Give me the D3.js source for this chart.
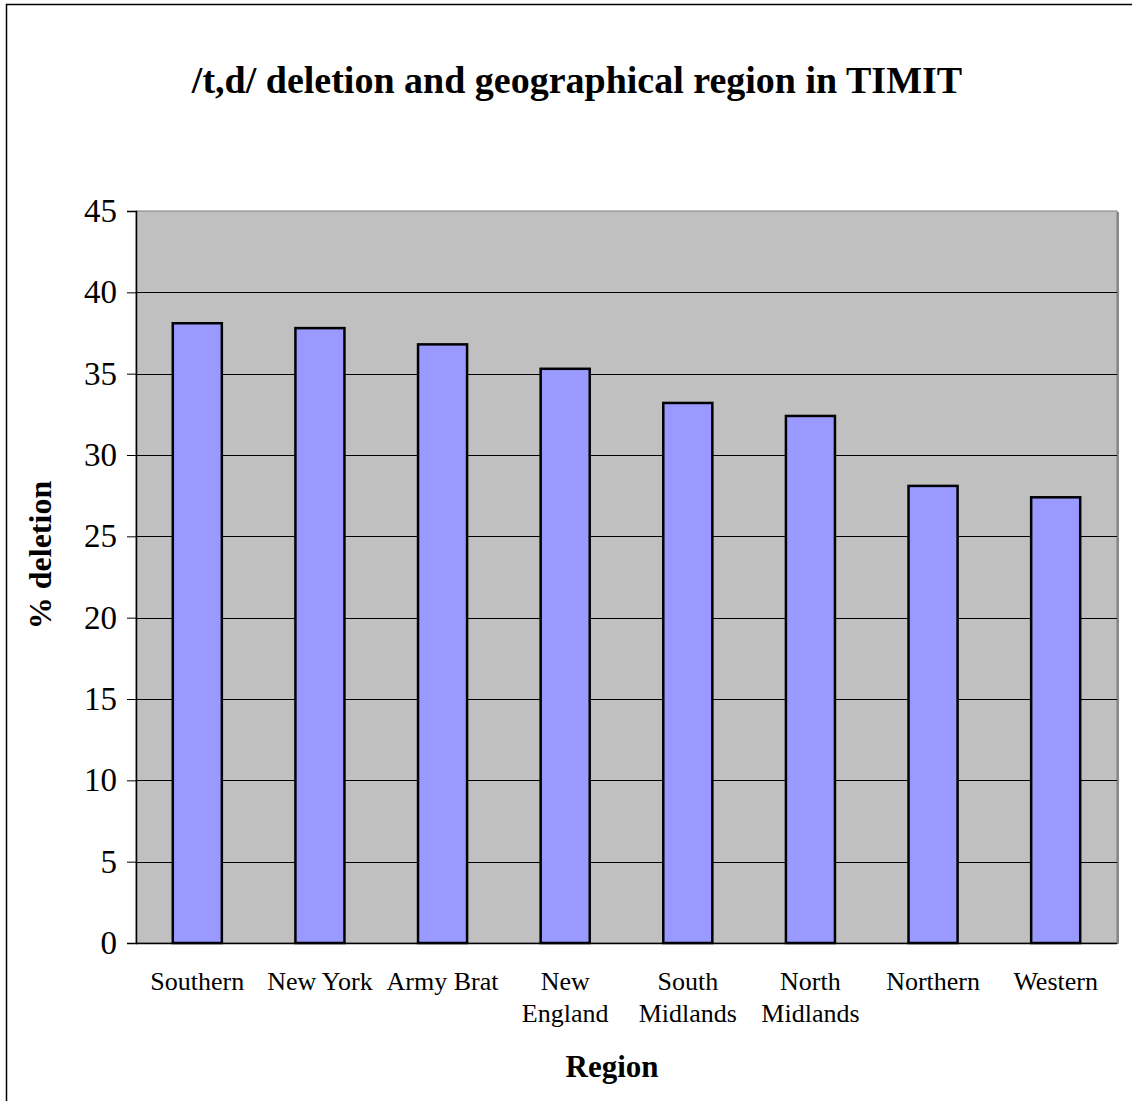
<!DOCTYPE html>
<html>
<head>
<meta charset="utf-8">
<script src="https://cdn.jsdelivr.net/npm/d3@7"></script>
<style>
  html, body { margin: 0; padding: 0; background: #fff; }
  svg { display: block; }
  text { font-family: "Liberation Serif", "Times New Roman", serif; fill: #000; }
</style>
</head>
<body>
<svg id="chart" width="1132" height="1101"></svg>
<script>
// Percent of /t,d/ deletion by dialect region
const regions = ["Southern", "New York", "Army Brat", "New England", "South Midlands", "North Midlands", "Northern", "Western"];
const regionLines = [["Southern"], ["New York"], ["Army Brat"], ["New", "England"], ["South", "Midlands"], ["North", "Midlands"], ["Northern"], ["Western"]];
const deletion = [38.1, 37.8, 36.8, 35.3, 33.2, 32.4, 28.1, 27.4];
const yTicks = [0, 5, 10, 15, 20, 25, 30, 35, 40, 45];

const serif = "'Liberation Serif', 'Times New Roman', serif";
const svg = d3.select("#chart");

// outer chart frame
svg.append("rect")
  .attr("x", 6.5).attr("y", 4.5)
  .attr("width", 1140).attr("height", 1110)
  .attr("fill", "#fff").attr("stroke", "#000").attr("stroke-width", 1.5);

const plot = { left: 136, right: 1117, top: 211, bottom: 943 };

const x = d3.scaleBand()
  .domain(regions)
  .range([plot.left, plot.right])
  .paddingInner(0.6)
  .paddingOuter(0.3);

const y = d3.scaleLinear()
  .domain([0, 45])
  .range([plot.bottom, plot.top]);

// plot area shadow and background
svg.append("rect")
  .attr("x", plot.left + 2).attr("y", plot.top + 1)
  .attr("width", plot.right - plot.left).attr("height", plot.bottom - plot.top)
  .attr("fill", "#8a8a8a");
svg.append("rect")
  .attr("x", plot.left).attr("y", plot.top)
  .attr("width", plot.right - plot.left).attr("height", plot.bottom - plot.top)
  .attr("fill", "#c0c0c0")
  .attr("stroke", "#808080").attr("stroke-width", 1);

// horizontal gridlines
svg.append("g")
  .selectAll("line")
  .data(yTicks.filter(t => t > 0 && t < 45))
  .join("line")
  .attr("x1", plot.left).attr("x2", plot.right)
  .attr("y1", d => Math.round(y(d)) + 0.5).attr("y2", d => Math.round(y(d)) + 0.5)
  .attr("stroke", "#000").attr("stroke-width", 1);

// bars
svg.append("g")
  .selectAll("rect")
  .data(deletion)
  .join("rect")
  .attr("x", (d, i) => x(regions[i]))
  .attr("y", d => y(d))
  .attr("width", x.bandwidth())
  .attr("height", d => y(0) - y(d))
  .attr("fill", "#9999ff")
  .attr("stroke", "#000")
  .attr("stroke-width", 2.5);

// y axis
const yAxis = svg.append("g")
  .attr("transform", `translate(${plot.left},0)`)
  .call(d3.axisLeft(y).tickValues(yTicks).tickSize(9).tickPadding(10))
  .attr("font-family", serif)
  .attr("font-size", 33);
yAxis.select(".domain").attr("stroke", "#000").attr("stroke-width", 1.5);
yAxis.selectAll(".tick line").attr("stroke", "#000");
yAxis.selectAll(".tick text")
  .style("font-family", serif)
  .style("font-size", "33px")
  .attr("fill", "#000");

// x baseline
svg.append("line")
  .attr("x1", plot.left).attr("x2", plot.right)
  .attr("y1", plot.bottom + 0.5).attr("y2", plot.bottom + 0.5)
  .attr("stroke", "#000").attr("stroke-width", 1.5);

// category labels
const labels = svg.append("g")
  .selectAll("text")
  .data(regionLines)
  .join("text")
  .attr("x", (d, i) => x(regions[i]) + x.bandwidth() / 2)
  .attr("y", 990)
  .attr("text-anchor", "middle")
  .style("font-family", serif)
  .style("font-size", "26px");
labels.selectAll("tspan")
  .data(d => d)
  .join("tspan")
  .attr("x", function () { return this.parentNode.getAttribute("x"); })
  .attr("dy", (d, i) => i === 0 ? 0 : 32)
  .text(d => d);

// title
svg.append("text")
  .attr("x", 577).attr("y", 93)
  .attr("text-anchor", "middle")
  .style("font-family", serif)
  .style("font-size", "38px").style("font-weight", "bold")
  .text("/t,d/ deletion and geographical region in TIMIT");

// axis titles
svg.append("text")
  .attr("x", 612).attr("y", 1077)
  .attr("text-anchor", "middle")
  .style("font-family", serif)
  .style("font-size", "31px").style("font-weight", "bold")
  .text("Region");

svg.append("text")
  .attr("transform", "translate(51,555) rotate(-90)")
  .attr("text-anchor", "middle")
  .style("font-family", serif)
  .style("font-size", "32px").style("font-weight", "bold")
  .text("% deletion");
</script>
</body>
</html>
